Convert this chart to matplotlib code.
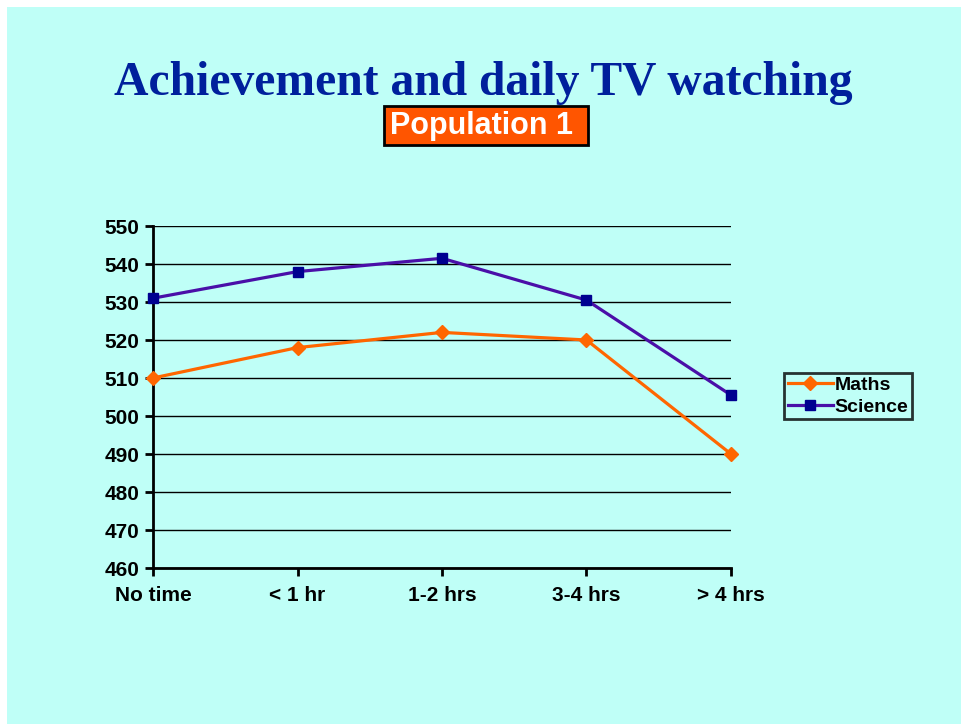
import matplotlib.pyplot as plt
from matplotlib.patches import Rectangle

# chart data
categories = ['No time', '< 1 hr', '1-2 hrs', '3-4 hrs', '> 4 hrs']
maths = [510, 518, 522, 520, 490]
science = [531, 538, 541.5, 530.5, 505.5]
yticks = [460, 470, 480, 490, 500, 510, 520, 530, 540, 550]

bg = '#bffff7'
W, H = 961, 724

fig = plt.figure(figsize=(9.61, 7.24), dpi=100)
fig.patch.set_facecolor('white')
# cyan slide area with a thin white margin on top/left
fig.add_artist(Rectangle((7 / W, 0), 1, 1 - 7 / H, transform=fig.transFigure,
                         facecolor=bg, edgecolor='none', zorder=0))

ax = fig.add_axes([153 / W, 1 - 568 / H, (731 - 153) / W, (568 - 226) / H])
ax.set_facecolor('none')

x = list(range(len(categories)))
ax.plot(x, maths, color='#ff6600', lw=2.3, marker='D', ms=7.5,
        mfc='#ff6600', mec='#ff6600', label='Maths', clip_on=False, zorder=3)
ax.plot(x, science, color='#4a0fa8', lw=2.3, marker='s', ms=6.5,
        mfc='#000090', mec='#000090', label='Science', clip_on=False, zorder=3)

ax.set_xlim(0, len(categories) - 1)
ax.set_ylim(460, 550)
ax.set_yticks(yticks)
ax.set_xticks(x)
ax.set_xticklabels(categories)
ax.grid(axis='y', color='black', lw=1.0)
ax.set_axisbelow(True)

for s in ['top', 'right']:
    ax.spines[s].set_visible(False)
for s in ['left', 'bottom']:
    ax.spines[s].set_linewidth(2.0)
    ax.spines[s].set_color('black')

ax.tick_params(axis='y', direction='out', length=6, width=2, pad=4)
ax.tick_params(axis='x', direction='out', length=6, width=2, pad=7)
for lab in ax.get_xticklabels() + ax.get_yticklabels():
    lab.set_fontfamily('Liberation Sans')
    lab.set_fontweight('bold')
    lab.set_fontsize(15)

leg = ax.legend(loc='center left', bbox_to_anchor=(784 / W, 1 - 396 / H),
                bbox_transform=fig.transFigure, frameon=True, fancybox=False,
                prop={'family': 'Liberation Sans', 'weight': 'bold', 'size': 14},
                handlelength=2.3, handletextpad=0.1, borderpad=0.2,
                labelspacing=0.2, borderaxespad=0)
leg.get_frame().set_edgecolor('black')
leg.get_frame().set_linewidth(2)
leg.get_frame().set_facecolor('none')

fig.text(0.503, 1 - 83 / H, 'Achievement and daily TV watching',
         ha='center', va='center', fontfamily='Liberation Serif',
         fontweight='bold', fontsize=34.3, color='#00209c')

# orange subtitle box
fig.add_artist(Rectangle((384 / W, 1 - 145 / H), (588 - 384) / W, (145 - 106) / H,
                         transform=fig.transFigure, facecolor='#ff5500',
                         edgecolor='black', linewidth=2, zorder=2))
fig.text(482 / W, 1 - 126 / H, 'Population 1', ha='center', va='center',
         fontfamily='Liberation Sans', fontweight='bold', fontsize=22,
         color='white', zorder=3)

fig.savefig('out.png', dpi=100, facecolor=fig.get_facecolor())
